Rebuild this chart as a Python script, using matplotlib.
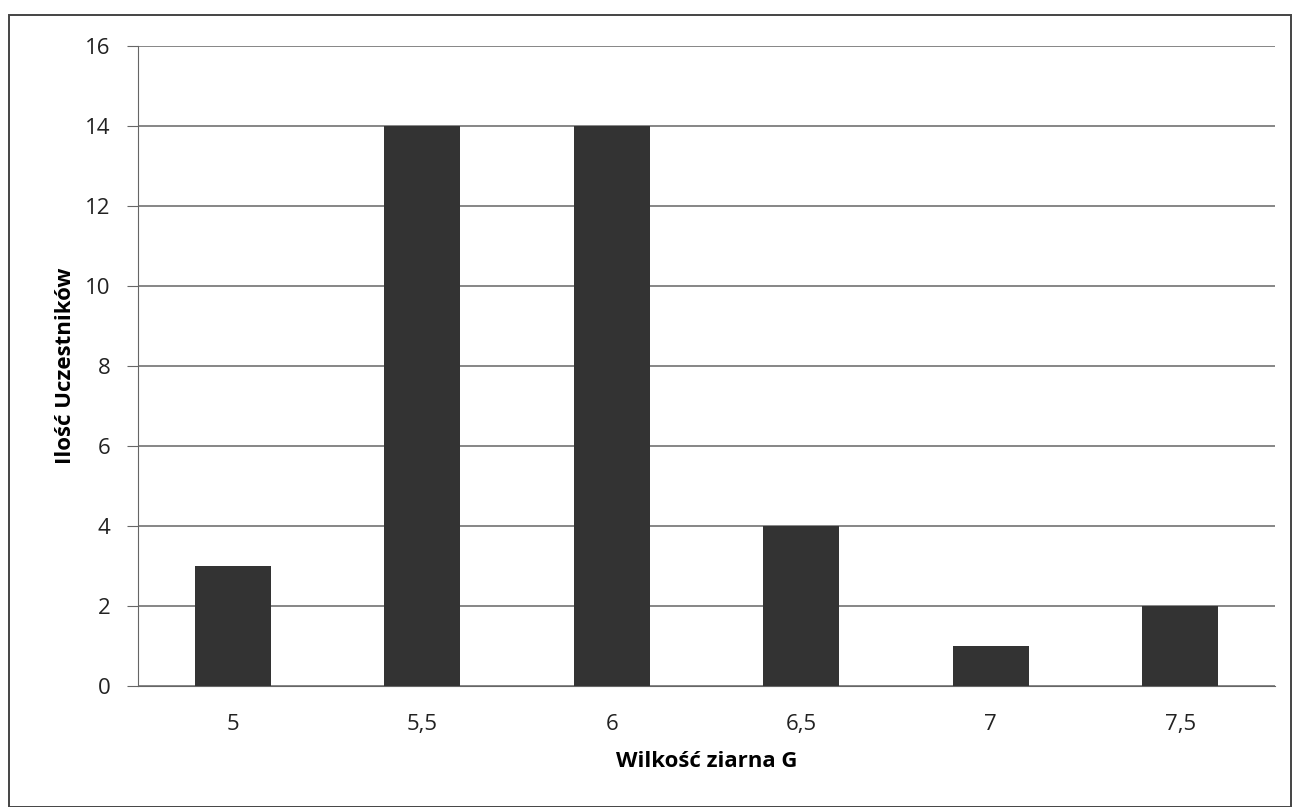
import matplotlib.pyplot as plt
from matplotlib.patches import Rectangle

grain = ['5', '5,5', '6', '6,5', '7', '7,5']
participants = [3, 14, 14, 4, 1, 2]
y_ticks = [0, 2, 4, 6, 8, 10, 12, 14, 16]

plt.rcParams['font.family'] = ['Open Sans', 'DejaVu Sans']

fig = plt.figure(figsize=(12.95, 8.07), dpi=100)
ax = fig.add_axes([0.1066, 0.150, 0.878, 0.793])

x = range(len(grain))
ax.bar(x, participants, width=0.4, color='#333333', zorder=3)

ax.set_xlim(-0.5, len(grain) - 0.5)
ax.set_ylim(0, 16)
ax.set_yticks(y_ticks)
ax.set_xticks(list(x))
ax.set_xticklabels(grain)
ax.tick_params(axis='x', labelsize=16, colors='#222222', length=0, pad=20)
ax.tick_params(axis='y', labelsize=16, colors='#222222', length=8,
               direction='out', color='#666666', pad=12)
ax.grid(axis='y', color='#666666', linewidth=1.1, zorder=0)

for side in ['top', 'right']:
    ax.spines[side].set_visible(False)
ax.spines['left'].set_color('#666666')
ax.spines['bottom'].set_color('#666666')

ax.set_xlabel('Wilkość ziarna G', fontsize=16, fontweight='bold', labelpad=12)
ax.set_ylabel('Ilość Uczestników', fontsize=16, fontweight='bold', labelpad=6)

# outer chart frame
fig.patches.append(Rectangle((0.007, 0.0), 0.99, 0.981, transform=fig.transFigure,
                             fill=False, edgecolor='#444444', linewidth=1.4))

fig.savefig('out.png', dpi=100)
